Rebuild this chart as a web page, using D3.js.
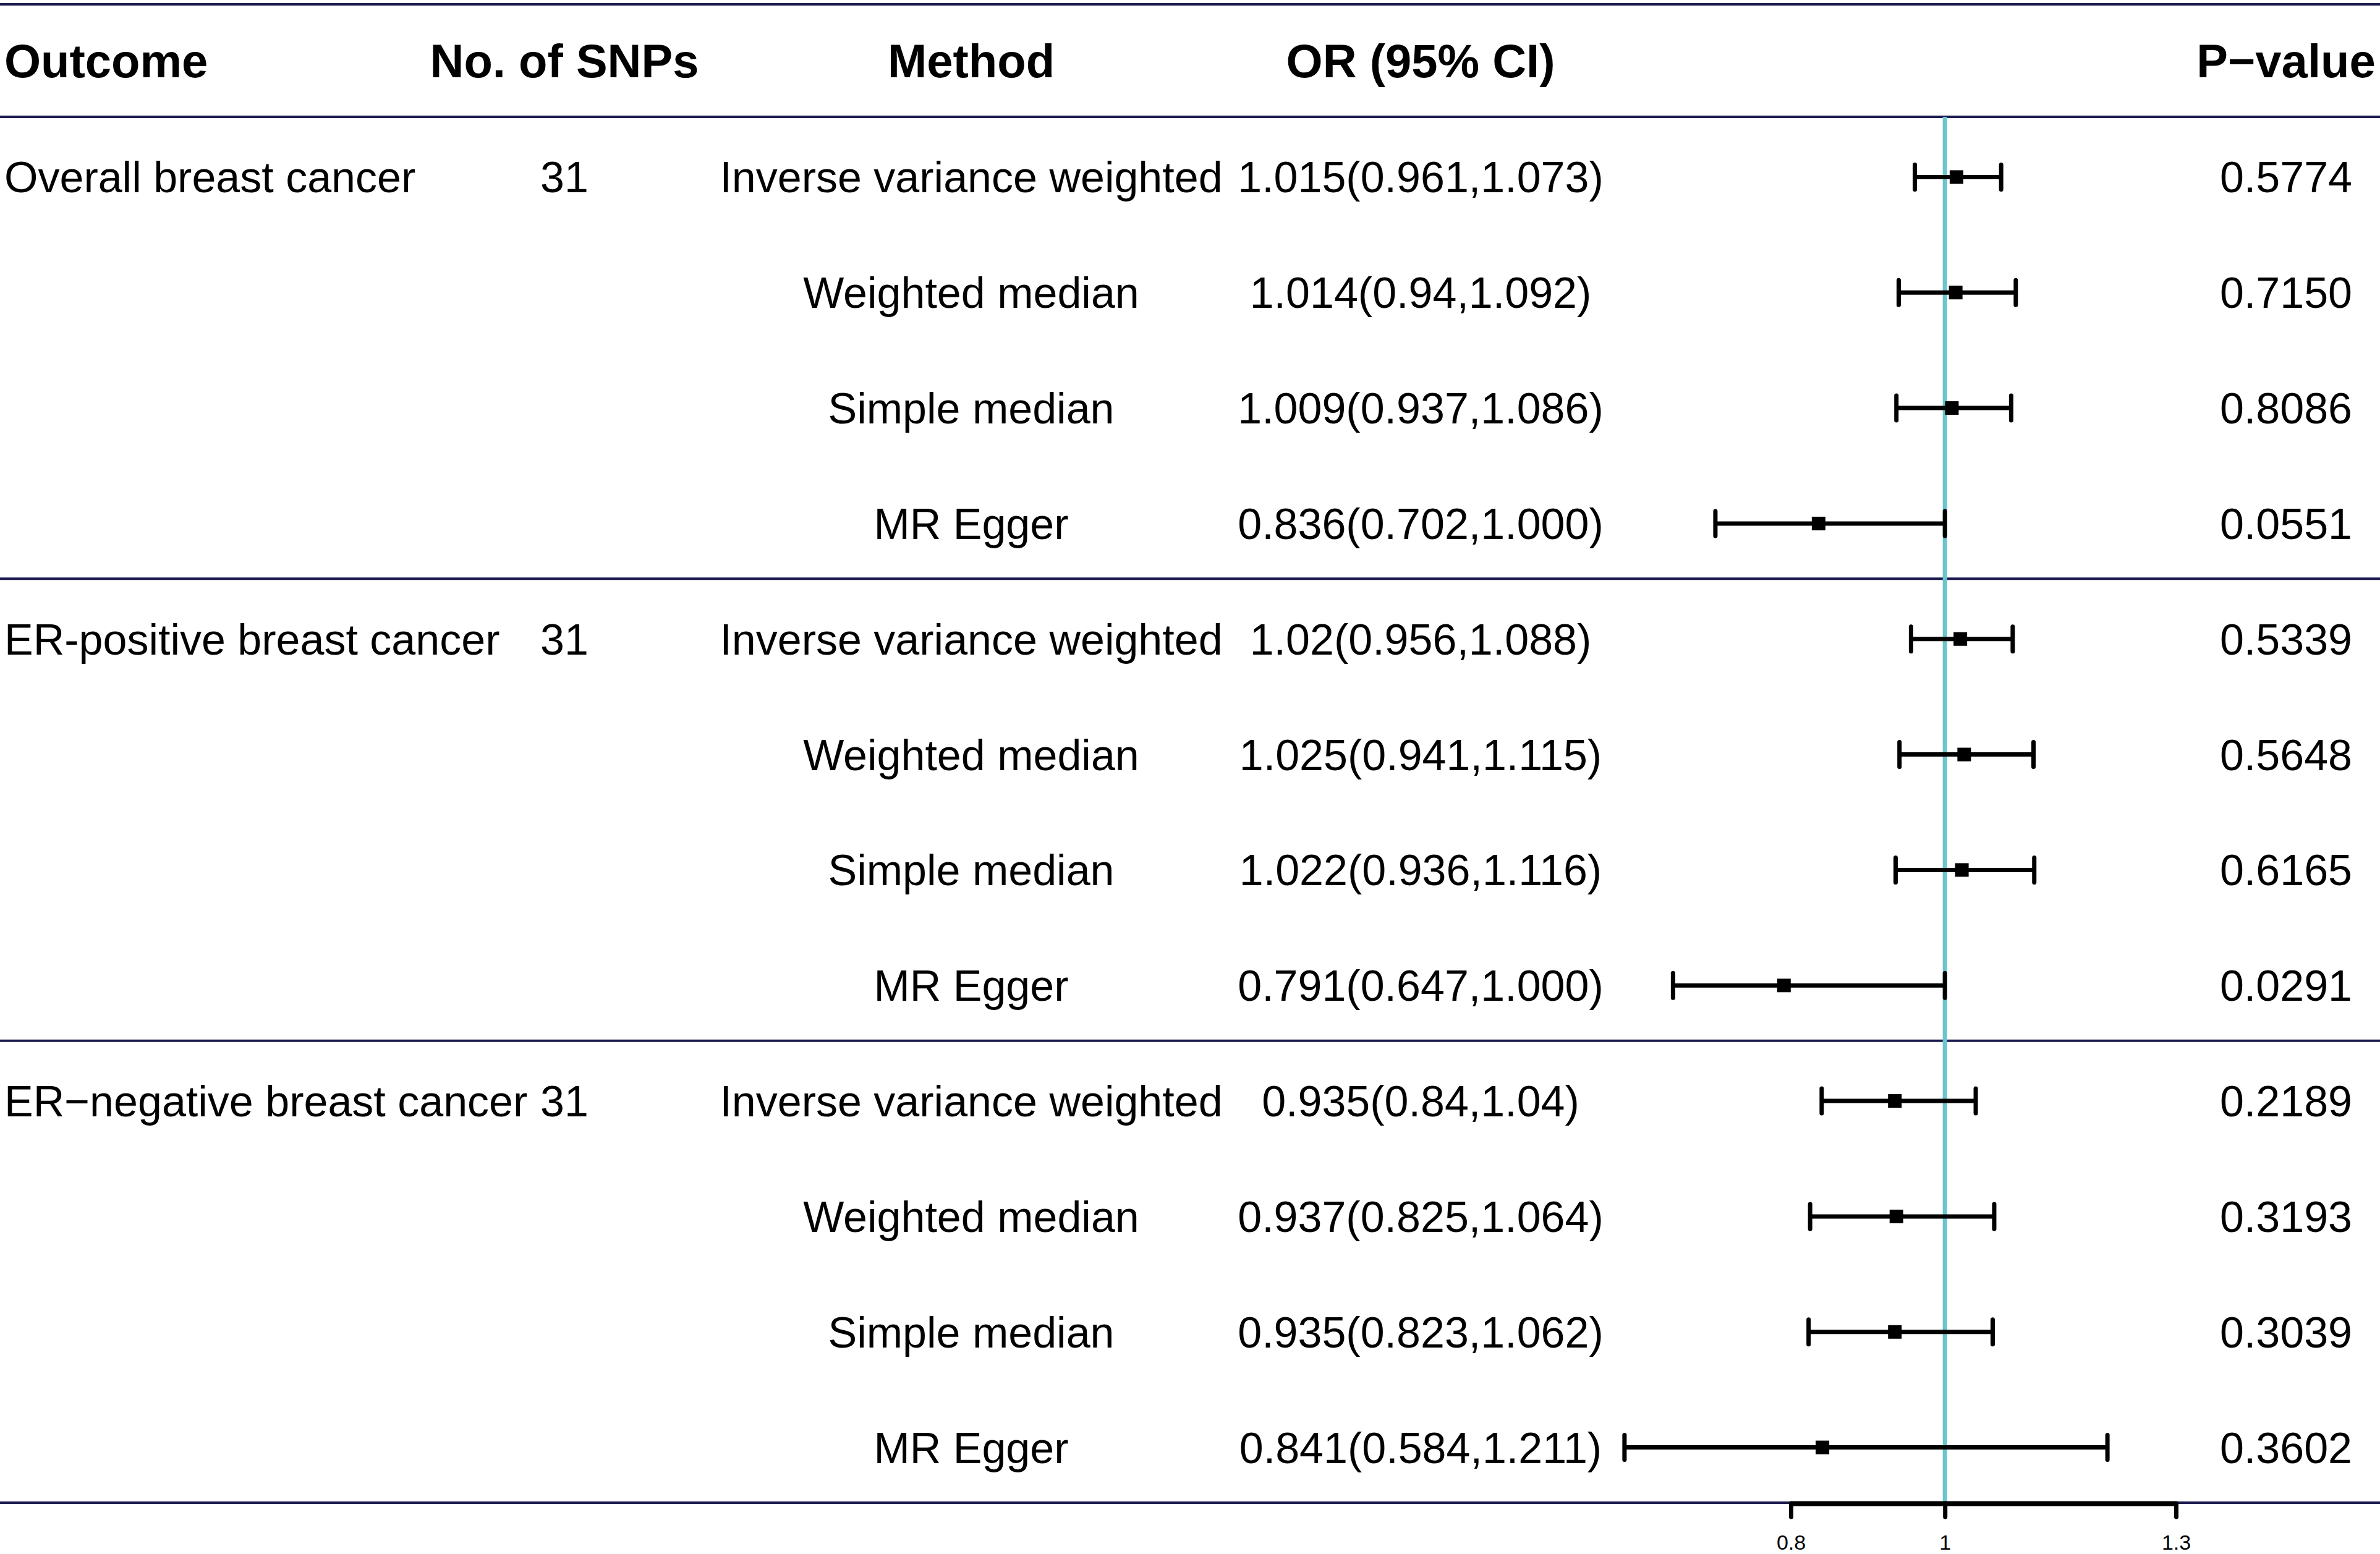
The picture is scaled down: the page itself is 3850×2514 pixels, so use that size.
<!DOCTYPE html>
<html>
<head>
<meta charset="utf-8">
<script src="https://cdn.jsdelivr.net/npm/d3@7"></script>
<style>
  html, body { margin: 0; padding: 0; background: #fff; }
  svg { display: block; font-family: 'Liberation Sans', Arial, sans-serif; }
</style>
</head>
<body>
<svg id="chart" width="3850" height="2514"></svg>
<script>
// Data
const outcomes = ['Overall breast cancer', 'ER-positive breast cancer', 'ER\u2212negative breast cancer'];
const snpCounts = ['31', '31', '31'];
const methods = ['Inverse variance weighted', 'Weighted median', 'Simple median', 'MR Egger'];
const orValues = [1.015, 1.014, 1.009, 0.836, 1.02, 1.025, 1.022, 0.791, 0.935, 0.937, 0.935, 0.841];
const lowerCI = [0.961, 0.94, 0.937, 0.702, 0.956, 0.941, 0.936, 0.647, 0.84, 0.825, 0.823, 0.584];
const upperCI = [1.073, 1.092, 1.086, 1.000, 1.088, 1.115, 1.116, 1.000, 1.04, 1.064, 1.062, 1.211];
const orLabels = [
  '1.015(0.961,1.073)', '1.014(0.94,1.092)', '1.009(0.937,1.086)', '0.836(0.702,1.000)',
  '1.02(0.956,1.088)', '1.025(0.941,1.115)', '1.022(0.936,1.116)', '0.791(0.647,1.000)',
  '0.935(0.84,1.04)', '0.937(0.825,1.064)', '0.935(0.823,1.062)', '0.841(0.584,1.211)',
];
const pValues = ['0.5774', '0.7150', '0.8086', '0.0551', '0.5339', '0.5648', '0.6165', '0.0291',
  '0.2189', '0.3193', '0.3039', '0.3602'];
const headers = ['Outcome', 'No. of SNPs', 'Method', 'OR (95% CI)', 'P\u2212value'];
const xTicks = [0.8, 1, 1.3];

// Build rows
const rows = orValues.map((or, i) => ({
  i,
  group: Math.floor(i / methods.length),
  method: methods[i % methods.length],
  or,
  lo: lowerCI[i],
  hi: upperCI[i],
  label: orLabels[i],
  p: pValues[i],
}));

const svg = d3.select('#chart');
const width = +svg.attr('width');

const topY = 7;
const headerY = 189;
const bottomY = 2431;
const navy = '#1b1b4f';
const teal = '#6cc4cc';

// Column positions
const col = {
  outcome: 7, snps: 913, method: 1571, or: 2298, p: 3698,
};

// Scales
const yScale = d3.scaleBand()
  .domain(d3.range(rows.length))
  .range([headerY, bottomY]);
const rowY = (i) => yScale(i) + yScale.bandwidth() / 2 + 4;

const xScale = d3.scaleLinear()
  .domain([0.8, 1.3])
  .range([2897, 3520]);

// Horizontal rules
const ruleYs = [topY, headerY];
outcomes.forEach((o, g) => {
  if (g < outcomes.length - 1) ruleYs.push(yScale((g + 1) * methods.length));
});
ruleYs.push(bottomY);
svg.selectAll('.rule')
  .data(ruleYs)
  .enter()
  .append('line')
  .attr('class', 'rule')
  .attr('x1', 0)
  .attr('x2', width)
  .attr('y1', (d) => d)
  .attr('y2', (d) => d)
  .attr('stroke', navy)
  .attr('stroke-width', 4);

// Header texts
const headerPos = [
  { x: col.outcome, anchor: 'start' },
  { x: col.snps, anchor: 'middle' },
  { x: col.method, anchor: 'middle' },
  { x: col.or, anchor: 'middle' },
  { x: col.p, anchor: 'middle' },
];
svg.selectAll('.header')
  .data(headers)
  .enter()
  .append('text')
  .attr('class', 'header')
  .attr('x', (d, i) => headerPos[i].x)
  .attr('y', 125)
  .attr('text-anchor', (d, i) => headerPos[i].anchor)
  .attr('font-size', '76px')
  .attr('font-weight', 'bold')
  .text((d) => d);

// Outcome and SNP count on the first row of each group
const groupFirst = rows.filter((d) => d.i % methods.length === 0);
svg.selectAll('.outcome')
  .data(groupFirst)
  .enter()
  .append('text')
  .attr('class', 'outcome')
  .attr('x', col.outcome)
  .attr('y', (d) => rowY(d.i) + 25)
  .attr('font-size', '70px')
  .text((d) => outcomes[d.group]);

svg.selectAll('.snps')
  .data(groupFirst)
  .enter()
  .append('text')
  .attr('class', 'snps')
  .attr('x', col.snps)
  .attr('y', (d) => rowY(d.i) + 25)
  .attr('text-anchor', 'middle')
  .attr('font-size', '70px')
  .text((d) => snpCounts[d.group]);

// Method, OR and P-value columns
const textCols = [
  { key: 'method', x: col.method },
  { key: 'label', x: col.or },
  { key: 'p', x: col.p },
];
textCols.forEach((c) => {
  svg.selectAll(`.t-${c.key}`)
    .data(rows)
    .enter()
    .append('text')
    .attr('class', `t-${c.key}`)
    .attr('x', c.x)
    .attr('y', (d) => rowY(d.i) + 25)
    .attr('text-anchor', 'middle')
    .attr('font-size', '70px')
    .text((d) => d[c.key]);
});

// Reference line at OR = 1
svg.append('line')
  .attr('x1', xScale(1))
  .attr('x2', xScale(1))
  .attr('y1', headerY)
  .attr('y2', bottomY)
  .attr('stroke', teal)
  .attr('stroke-width', 7);

// Confidence intervals
const ci = svg.selectAll('.ci')
  .data(rows)
  .enter()
  .append('g')
  .attr('class', 'ci');

ci.append('line')
  .attr('x1', (d) => xScale(d.lo))
  .attr('x2', (d) => xScale(d.hi))
  .attr('y1', (d) => rowY(d.i))
  .attr('y2', (d) => rowY(d.i))
  .attr('stroke', '#000')
  .attr('stroke-width', 7);

['lo', 'hi'].forEach((k) => {
  ci.append('line')
    .attr('x1', (d) => xScale(d[k]))
    .attr('x2', (d) => xScale(d[k]))
    .attr('y1', (d) => rowY(d.i) - 20)
    .attr('y2', (d) => rowY(d.i) + 20)
    .attr('stroke', '#000')
    .attr('stroke-width', 7)
    .attr('stroke-linecap', 'round');
});

ci.append('rect')
  .attr('x', (d) => xScale(d.or) - 11)
  .attr('y', (d) => rowY(d.i) - 11)
  .attr('width', 22)
  .attr('height', 22)
  .attr('fill', '#000');

// Axis
const xAxis = d3.axisBottom(xScale)
  .tickValues(xTicks)
  .tickFormat((d) => String(d))
  .tickSize(22)
  .tickSizeOuter(0)
  .tickPadding(29);

const axisG = svg.append('g')
  .attr('transform', `translate(0,${bottomY + 1})`)
  .call(xAxis);
axisG.select('.domain')
  .attr('stroke', '#000')
  .attr('stroke-width', 8);
axisG.selectAll('.tick line')
  .attr('stroke', '#000')
  .attr('stroke-width', 7)
  .attr('stroke-linecap', 'round');
axisG.selectAll('.tick text')
  .attr('fill', '#000')
  .attr('font-size', '34px')
  .attr('font-family', "'Liberation Sans', Arial, sans-serif");
</script>
</body>
</html>
